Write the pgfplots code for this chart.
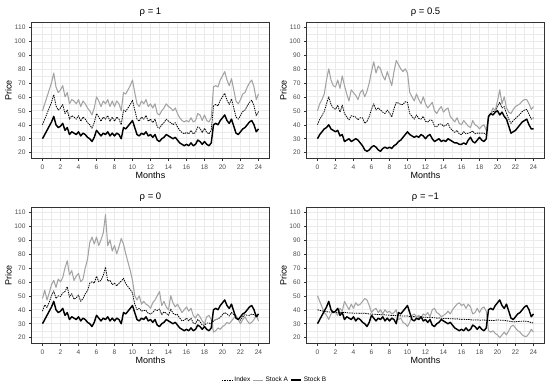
\documentclass[border=0pt]{standalone}
\usepackage{fontspec}
\setmainfont{Liberation Sans}
\usepackage{pgfplots}
\usepackage{pgfplotstable}
\pgfplotsset{compat=1.18}
\definecolor{gridc}{HTML}{EBEBEB}
\definecolor{framec}{HTML}{333333}
\definecolor{tickc}{HTML}{4D4D4D}
\definecolor{stockA}{HTML}{A3A3A3}

\pgfplotstableread{
t B A1 I1 B2 A2 I2 A3 I3 A4 I4
0 30 50 40 30 50 40 48 39 50 40
0.25 33 55 44 33 55 44 54 43.5 46 39.5
0.5 36 60 48 35 58 46.5 47 41.5 42 39.2
0.75 39 65 52 37 62 49.5 52 45.5 38 38.8
1 42 70 56 38 72 55 58 50 36 38.6
1.25 46 77 61.5 40 80 60 61 53.5 33 38.4
1.5 40 67 53.5 37 72 54.5 56 48 37 38.5
1.75 38 63 50.5 36 68 52 62 50 39 38.3
2 39 65 52 35 67 51 60 49.5 38 38.2
2.25 41 68 54.5 36 72 54 63 52 36 38.0
2.5 36 60 48 32 66 49 70 53 41 38.3
2.75 38 63 50.5 33 75 54 75 56.5 39 38.0
3 33 55 44 28 68 48 65 49 46 38.2
3.25 35 58 46.5 29 62 45.5 68 51.5 43 37.9
3.5 34 57 45.5 30 57 43.5 61 47.5 40 37.6
3.75 33 55 44 28 65 46.5 64 48.5 44 37.8
4 35 58 46.5 29 63 46 66 50.5 41 37.5
4.25 32 53 42.5 30 61 45.5 60 46 45 37.6
4.5 34 57 45.5 29 58 43.5 62 48 43 37.5
4.75 33 55 44 27 63 45 70 51.5 44 37.4
5 31 52 41.5 25 65 45 76 53.5 46 37.5
5.25 30 50 40 22 60 41 88 59 48 37.6
5.5 28 47 37.5 21 64 42.5 92 60 47 37.2
5.75 31 52 41.5 22 70 46 87 59 43 37.0
6 36 60 48 24 78 51 92 64 38 36.9
6.25 34 57 45.5 25 85 55 86 60 40 36.8
6.5 32 53 42.5 24 77 50.5 90 61 41 36.7
6.75 34 57 45.5 22 82 52 95 64.5 38 36.5
7 33 55 44 21 80 50.5 108 70.5 40 36.6
7.25 35 58 46.5 23 75 49 86 60.5 37 36.3
7.5 32 53 42.5 24 72 48 90 61 40 36.4
7.75 34 57 45.5 23 78 50.5 82 58 38 36.2
8 32 53 42.5 24 73 48.5 86 59 39 36.1
8.25 34 57 45.5 23 68 45.5 80 57 37 35.9
8.5 33 55 44 25 78 51.5 85 59 38 36.0
8.75 30 50 40 26 86 56 91 60.5 40 35.7
9 38 63 50.5 28 83 55.5 87 62.5 33 35.8
9.25 37 62 49.5 29 80 54.5 80 58.5 34 35.6
9.5 39 65 52 31 78 54.5 74 56.5 31 35.5
9.75 41 68 54.5 33 80 56.5 68 54.5 30 35.6
10 43 72 57.5 35 77 56 61 52 28 35.5
10.25 38 63 50.5 33 63 48 50 44 31 35.2
10.5 33 55 44 32 60 46 47 40 36 35.0
10.75 32 53 42.5 31 57 44 50 41 37 35.1
11 34 57 45.5 32 62 47 44 39 35 34.9
11.25 33 55 44 31 58 44.5 46 39.5 36 34.8
11.5 35 58 46.5 33 55 44 44 39.5 34 34.9
11.75 32 53 42.5 32 60 46 43 37.5 37 34.7
12 33 55 44 30 55 42.5 41 37 36 34.6
12.25 31 52 41.5 32 52 42 45 38 38 34.5
12.5 33 55 44 33 54 43.5 47 40 35 34.3
12.75 29 48 38.5 30 56 43 50 39.5 40 34.4
13 28 47 37.5 28 50 39 53 40.5 41 34.3
13.25 30 50 40 29 48 38.5 43 36.5 38 34.0
13.5 31 52 41.5 30 51 40.5 46 38.5 37 34.1
13.75 33 55 44 28 53 40.5 42 37.5 35 33.9
14 32 53 42.5 29 49 39 40 36 36 33.8
14.25 31 52 41.5 28 51 39.5 50 40.5 37 33.8
14.5 30 50 40 30 52 41 45 37.5 39 33.7
14.75 31 52 41.5 29 46 37.5 42 36.5 37 33.5
15 29 48 38.5 28 44 36 44 36.5 40 33.6
15.25 27 45 36 27 42 34.5 41 34 42 33.4
15.5 26 43 34.5 27 45 36 38 32 44 33.5
15.75 25 42 33.5 26 41 33.5 40 32.5 45 33.3
16 26 43 34.5 26 40 33 42 34 43 33.1
16.25 25 42 33.5 27 43 35 39 32 44 33.2
16.5 27 45 36 26 41 33.5 41 34 41 33.0
16.75 25 42 33.5 29 39 34 36 30.5 44 33.1
17 26 43 34.5 31 38 34.5 34 30 42 32.9
17.25 29 48 38.5 28 43 35.5 37 33 37 32.6
17.5 28 47 37.5 27 40 33.5 35 31.5 38 32.7
17.75 26 43 34.5 29 39 34 32 29 41 32.8
18 28 47 37.5 31 37 34 30 29 38 32.5
18.25 26 43 34.5 29 39 34 35 30.5 41 32.6
18.5 25 42 33.5 28 40 34 36 30.5 42 32.7
18.75 27 45 36 30 36 33 33 30 39 32.4
19 40 67 53.5 46 45 45.5 24 32 25 32.3
19.25 41 68 54.5 48 48 48 25 33 24 32.5
19.5 40 67 53.5 47 52 49.5 27 33.5 25 32.2
19.75 43 72 57.5 49 50 49.5 26 34.5 23 32.4
20 45 75 60 50 57 53.5 28 36.5 22 32.8
20.25 47 78 62.5 47 65 56 29 38 20 32.6
20.5 43 72 57.5 49 55 52 31 37 22 32.4
20.75 41 68 54.5 46 60 53 30 35.5 24 32.5
21 44 73 58.5 44 52 48 32 38 22 32.1
21.25 39 65 52 39 49 44 34 36.5 25 31.9
21.5 34 57 45.5 34 48 41 36 35 28 31.6
21.75 33 55 44 35 51 43 33 33 29 31.3
22 35 58 46.5 36 53 44.5 30 32.5 27 31.4
22.25 37 62 49.5 38 54 46 33 35 25 31.6
22.5 38 63 50.5 40 55 47.5 35 36.5 24 31.7
22.75 40 67 53.5 42 57 49.5 32 36 22 31.8
23 42 70 56 43 58 50.5 30 36 21 31.9
23.25 43 72 57.5 44 58 51 31 37 21 31.7
23.5 40 67 53.5 40 55 47.5 33 36.5 23 31.4
23.75 35 58 46.5 37 51 44 36 35.5 26 30.8
24 37 62 49.5 37 53 45 32 34.5 24 30.5
}\data

\pgfplotsset{
 panel/.style={
  scale only axis, width=237.6pt, height=135.6pt,
  xmin=-1.2, xmax=25.2, ymin=16, ymax=113,
  xtick={0,2,...,24}, ytick={20,30,...,110},
  minor xtick={1,3,...,23}, minor ytick={25,35,...,105},
  grid=both,
  major grid style={draw=gridc, line width=0.6pt},
  minor grid style={draw=gridc, line width=0.3pt},
  axis line style={draw=framec, line width=0.6pt},
  tick align=outside, tick pos=left,
  major tick length=2.7pt, minor tick length=0pt,
  major tick style={draw=framec, line width=0.5pt},
  tick label style={font=\fontsize{6.6}{7}\selectfont, text=tickc},
  /pgf/number format/assume math mode=true,
  xlabel=Months, ylabel=Price,
  label style={font=\fontsize{9}{10}\selectfont},
  xlabel style={at={(axis description cs:0.5,-0.123)}, anchor=center},
  ylabel style={at={(axis description cs:-0.0985,0.5)}, anchor=center},
  title style={at={(axis description cs:0.5,1.035)}, anchor=center, font=\fontsize{9.5}{10}\selectfont},
  every axis plot/.append style={line join=round},
 },
 idx/.style={black, line width=0.8pt, dash pattern=on 1.4pt off 0.9pt},
 sa/.style={stockA, line width=1.05pt},
 sb/.style={black, line width=1.45pt},
}

\begin{document}
\begin{tikzpicture}
\useasboundingbox (0,0) rectangle (550pt,389pt);
\begin{axis}[panel, at={(31.7pt,230.7pt)}, anchor=south west, title={ρ = 1}]
\addplot[idx, forget plot] table[x=t, y=I1] {\data};
\addplot[sa, forget plot] table[x=t, y=A1] {\data};
\addplot[sb, forget plot] table[x=t, y=B] {\data};
\end{axis}
\begin{axis}[panel, at={(306.7pt,230.7pt)}, anchor=south west, title={ρ = 0.5}]
\addplot[idx, forget plot] table[x=t, y=I2] {\data};
\addplot[sa, forget plot] table[x=t, y=A2] {\data};
\addplot[sb, forget plot] table[x=t, y=B2] {\data};
\end{axis}
\begin{axis}[panel, at={(31.7pt,45.7pt)}, anchor=south west, title={ρ = 0},
  legend style={at={(1.024,-0.2707)}, anchor=center, draw=none, fill=none,
    font=\fontsize{6.5}{7}\selectfont, legend columns=3,
    /tikz/every even column/.append style={column sep=0.5pt}},
  legend image code/.code={\draw[#1] (0pt,0pt) -- (10pt,0pt);}]
\addplot[idx, forget plot] table[x=t, y=I3] {\data};
\addplot[sa, forget plot] table[x=t, y=A3] {\data};
\addplot[sb, forget plot] table[x=t, y=B] {\data};
\addlegendimage{black, line width=0.6pt, dash pattern=on 0.8pt off 0.8pt}
\addlegendentry{Index}
\addlegendimage{stockA, line width=0.8pt}
\addlegendentry{Stock A}
\addlegendimage{black, line width=1.2pt}
\addlegendentry{Stock B}
\end{axis}
\begin{axis}[panel, at={(306.7pt,45.7pt)}, anchor=south west, title={ρ = −1}]
\addplot[idx, forget plot] table[x=t, y=I4] {\data};
\addplot[sa, forget plot] table[x=t, y=A4] {\data};
\addplot[sb, forget plot] table[x=t, y=B] {\data};
\end{axis}
\end{tikzpicture}
\end{document}
